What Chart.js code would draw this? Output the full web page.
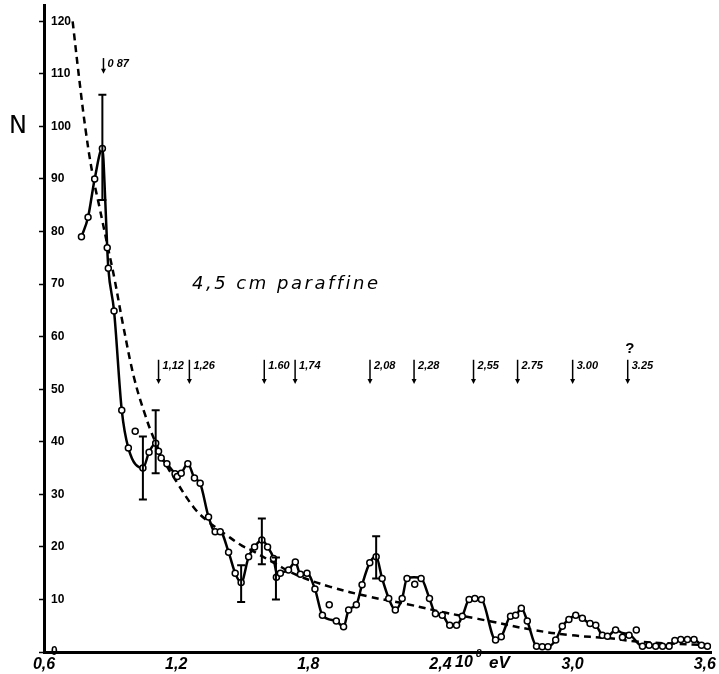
<!DOCTYPE html>
<html>
<head>
<meta charset="utf-8">
<script src="https://cdn.jsdelivr.net/npm/chart.js@4"></script>
<style>
  html, body { margin: 0; padding: 0; background: #fff; }
  #wrap { width: 719px; height: 674px; }
</style>
</head>
<body>
<div id="wrap"><canvas id="chart" width="719" height="674"></canvas></div>
<script>
// measured counts (open circles)
const pointX = [0.77, 0.80, 0.83, 0.865, 0.887, 0.892, 0.918, 0.953, 0.983, 1.014, 1.049, 1.077, 1.107, 1.12, 1.132,
  1.158, 1.195, 1.205, 1.223, 1.253, 1.283, 1.309, 1.347, 1.377, 1.40, 1.438, 1.468, 1.495, 1.529, 1.556,
  1.589, 1.615, 1.642, 1.655, 1.673, 1.71, 1.741, 1.764, 1.794, 1.83, 1.864, 1.895, 1.927, 1.96, 1.983,
  2.018, 2.044, 2.079, 2.108, 2.135, 2.165, 2.195, 2.226, 2.248, 2.283, 2.312, 2.35, 2.377, 2.408, 2.442,
  2.473, 2.499, 2.53, 2.556, 2.586, 2.65, 2.676, 2.718, 2.741, 2.767, 2.794, 2.836, 2.862, 2.888, 2.923,
  2.953, 2.983, 3.014, 3.044, 3.079, 3.105, 3.135, 3.158, 3.195, 3.226, 3.256, 3.289, 3.317, 3.347, 3.377,
  3.408, 3.438, 3.464, 3.491, 3.521, 3.551, 3.585, 3.612];
const pointY = [79, 82.7, 90, 95.8, 76.9, 73, 64.9, 46, 38.8, 42, 35, 38, 39.7, 38.2, 36.9,
  35.8, 33.9, 33.4, 34, 35.8, 33.1, 32.1, 25.7, 22.9, 22.9, 19, 15, 13.2, 18.1, 20,
  21.3, 20, 17.8, 14.2, 15, 15.6, 17.1, 14.8, 15, 12, 7, 9, 5.9, 4.8, 8,
  9, 12.8, 17, 18.1, 14, 10.2, 8, 10.2, 14, 12.9, 14, 10.2, 7.3, 7, 5.1,
  5.1, 6.8, 10, 10.2, 10, 2.3, 2.9, 6.8, 7, 8.3, 5.9, 1.1, 1, 1, 2.3,
  4.9, 6.2, 7, 6.4, 5.4, 5.1, 3.2, 3, 4.2, 2.8, 3.2, 4.2, 1.1, 1.3, 1.1,
  1.1, 1.1, 2.2, 2.4, 2.4, 2.4, 1.3, 1.1];

// solid curve drawn through the data
const curveX = [0.77, 0.80, 0.83, 0.865, 0.878, 0.887, 0.892, 0.918, 0.953, 0.983, 1.049, 1.077, 1.107, 1.12, 1.132,
  1.158, 1.195, 1.205, 1.223, 1.253, 1.283, 1.309, 1.347, 1.377, 1.40, 1.438, 1.468, 1.495, 1.529, 1.556,
  1.589, 1.615, 1.642, 1.66, 1.673, 1.71, 1.741, 1.764, 1.794, 1.83, 1.864, 1.927, 1.96, 1.983,
  2.018, 2.044, 2.079, 2.108, 2.135, 2.165, 2.195, 2.226, 2.248, 2.28, 2.312, 2.35, 2.377, 2.408, 2.442,
  2.473, 2.499, 2.53, 2.556, 2.586, 2.65, 2.676, 2.718, 2.741, 2.767, 2.794, 2.836, 2.862, 2.888, 2.923,
  2.953, 2.983, 3.014, 3.044, 3.079, 3.105, 3.135, 3.158, 3.195, 3.226, 3.256, 3.317, 3.347, 3.377,
  3.408, 3.438, 3.464, 3.491, 3.521, 3.551, 3.585, 3.612];
const curveY = [79, 82.7, 90, 95.8, 86, 76.9, 73, 64.9, 46, 38.8, 35, 38, 39.7, 38.2, 36.9,
  35.8, 33.9, 33.4, 34, 35.8, 33.1, 32.1, 25.7, 22.9, 22.9, 19, 15, 13.2, 18.1, 20,
  21.3, 20, 17.8, 14.5, 15, 15.6, 17.1, 14.8, 15, 12, 7, 5.9, 4.8, 8,
  9, 12.8, 17, 18.1, 14, 10.2, 8, 10.2, 14, 14.2, 14, 10.2, 7.3, 7, 5.1,
  5.1, 6.8, 10, 10.2, 10, 2.3, 2.9, 6.8, 7, 8.3, 5.9, 1.1, 1, 1, 2.3,
  4.9, 6.2, 7, 6.4, 5.4, 5.1, 3.2, 3, 4.2, 3.6, 3.4, 1.1, 1.3, 1.1,
  1.1, 1.1, 2.2, 2.4, 2.4, 2.4, 1.3, 1.1];

// dashed smooth background
const fitX = [0.73, 0.76, 0.79, 0.82, 0.85, 0.89, 0.92, 0.96, 1.01, 1.06, 1.10, 1.15, 1.20, 1.28, 1.34, 1.43,
  1.50, 1.54, 1.65, 1.75, 1.90, 2.08, 2.25, 2.42, 2.57, 2.63, 2.82, 2.99, 3.17, 3.29, 3.45, 3.60];
const fitY = [120, 109, 99, 91, 85, 77, 71, 62, 52, 45, 40.5, 36, 32.5, 27.5, 25, 22.2,
  20.2, 19.4, 16.8, 14.6, 12.4, 10.5, 9.1, 7.5, 6.3, 5.8, 4.2, 3.2, 2.6, 2.0, 1.6, 1.3];

// error bars
const errX = [0.865, 1.049, 1.107, 1.495, 1.589, 1.653, 2.108];
const errLow = [86, 29, 34, 9.5, 16.7, 10, 14];
const errHigh = [106, 41, 46, 16.5, 25.4, 18, 22];

// marked resonance energies
const lineX = [0.87, 1.12, 1.26, 1.60, 1.74, 2.08, 2.28, 2.55, 2.75, 3.00, 3.25];
const lineLabels = ['0 87', '1,12', '1,26', '1.60', '1,74', '2,08', '2,28', '2,55', '2.75', '3.00', '3.25'];

const xTicks = [0.6, 1.2, 1.8, 2.4, 3.0, 3.6];
const xTickLabels = ['0,6', '1,2', '1,8', '2,4', '3,0', '3,6'];
const yTicks = [0, 10, 20, 30, 40, 50, 60, 70, 80, 90, 100, 110, 120];

function toXY(xs, ys) {
  return xs.map((v, i) => ({ x: v, y: ys[i] }));
}

const annotatePlugin = {
  id: 'annotate',
  afterDatasetsDraw(chart) {
    const { ctx, scales: { x, y }, chartArea } = chart;
    ctx.save();
    ctx.strokeStyle = '#000';
    ctx.fillStyle = '#000';

    // error bars
    ctx.lineWidth = 2;
    errX.forEach((v, i) => {
      const px = x.getPixelForValue(v);
      const top = y.getPixelForValue(errHigh[i]);
      const bot = y.getPixelForValue(errLow[i]);
      ctx.beginPath();
      ctx.moveTo(px, top); ctx.lineTo(px, bot);
      ctx.moveTo(px - 4, top); ctx.lineTo(px + 4, top);
      ctx.moveTo(px - 4, bot); ctx.lineTo(px + 4, bot);
      ctx.stroke();
    });

    // arrows with energies
    ctx.lineWidth = 1.5;
    ctx.font = 'italic bold 11px "Liberation Sans"';
    ctx.textBaseline = 'middle';
    ctx.textAlign = 'left';
    lineX.forEach((v, i) => {
      const px = x.getPixelForValue(v);
      const first = i === 0;
      const top = y.getPixelForValue(first ? 113 : 55.6);
      const bot = y.getPixelForValue(first ? 110 : 51);
      ctx.beginPath();
      ctx.moveTo(px, top); ctx.lineTo(px, bot - 4);
      ctx.stroke();
      ctx.beginPath();
      ctx.moveTo(px - 2.5, bot - 5); ctx.lineTo(px + 2.5, bot - 5); ctx.lineTo(px, bot);
      ctx.closePath();
      ctx.fill();
      ctx.fillText(lineLabels[i], px + 4, top + 6);
    });
    ctx.font = 'bold 15px "Liberation Sans"';
    ctx.textAlign = 'center';
    ctx.fillText('?', x.getPixelForValue(3.26), y.getPixelForValue(57.6));

    // sample label
    ctx.font = 'italic 18px "DejaVu Sans"';
    ctx.letterSpacing = '2.5px';
    ctx.fillText('4,5 cm paraffine', x.getPixelForValue(1.70), y.getPixelForValue(70));
    ctx.letterSpacing = '0px';

    // axis titles
    ctx.font = '24px "DejaVu Sans"';
    ctx.fillText('N', 18, y.getPixelForValue(100));
    ctx.font = 'italic bold 16px "Liberation Sans"';
    ctx.textAlign = 'left';
    const ux = x.getPixelForValue(2.466);
    const uy = chartArea.bottom + 11;
    ctx.fillText('10', ux, uy);
    ctx.font = 'italic bold 10px "Liberation Sans"';
    ctx.fillText('8', ux + 21, uy - 9);
    ctx.font = 'italic bold 17px "Liberation Sans"';
    ctx.fillText('eV', ux + 34, uy);
    ctx.restore();
  }
};

const ctx = document.getElementById('chart').getContext('2d');
new Chart(ctx, {
  type: 'line',
  data: {
    datasets: [
      {
        label: 'fit',
        data: toXY(fitX, fitY),
        borderColor: '#000',
        borderWidth: 2.5,
        borderDash: [7, 5],
        pointRadius: 0,
        tension: 0.4,
        order: 3
      },
      {
        label: 'curve',
        data: toXY(curveX, curveY),
        borderColor: '#000',
        borderWidth: 2.5,
        pointRadius: 0,
        cubicInterpolationMode: 'monotone',
        order: 2
      },
      {
        label: 'N',
        data: toXY(pointX, pointY),
        showLine: false,
        pointRadius: 3,
        pointBorderWidth: 1.5,
        pointBorderColor: '#000',
        pointBackgroundColor: '#fff',
        order: 1
      }
    ]
  },
  options: {
    responsive: false,
    animation: false,
    devicePixelRatio: 1,
    layout: { padding: { left: 38, right: 7, top: 4, bottom: 0 } },
    plugins: {
      legend: { display: false },
      tooltip: { enabled: false }
    },
    scales: {
      x: {
        type: 'linear',
        min: 0.6,
        max: 3.63,
        afterBuildTicks: scale => { scale.ticks = xTicks.map(v => ({ value: v })); },
        afterFit: scale => { scale.height = 22; },
        border: { color: '#000', width: 3 },
        grid: { drawOnChartArea: false, drawTicks: false },
        ticks: {
          padding: 3,
          color: '#000',
          font: { family: 'Liberation Sans', size: 16, style: 'italic', weight: 'bold' },
          callback: v => xTickLabels[xTicks.indexOf(v)]
        }
      },
      y: {
        type: 'linear',
        min: 0,
        max: 123,
        afterBuildTicks: scale => { scale.ticks = yTicks.map(v => ({ value: v })); },
        afterFit: scale => {
          scale.width = 6;
          scale.paddingTop = 0;
          scale.paddingBottom = 0;
        },
        border: { color: '#000', width: 3 },
        grid: { drawOnChartArea: false, drawTicks: true, tickLength: 5, tickColor: '#000', tickWidth: 1.5 },
        ticks: {
          mirror: true,
          padding: 7,
          color: '#000',
          font: { family: 'Liberation Sans', size: 12, weight: 'bold' }
        }
      }
    }
  },
  plugins: [annotatePlugin]
});
</script>
</body>
</html>
